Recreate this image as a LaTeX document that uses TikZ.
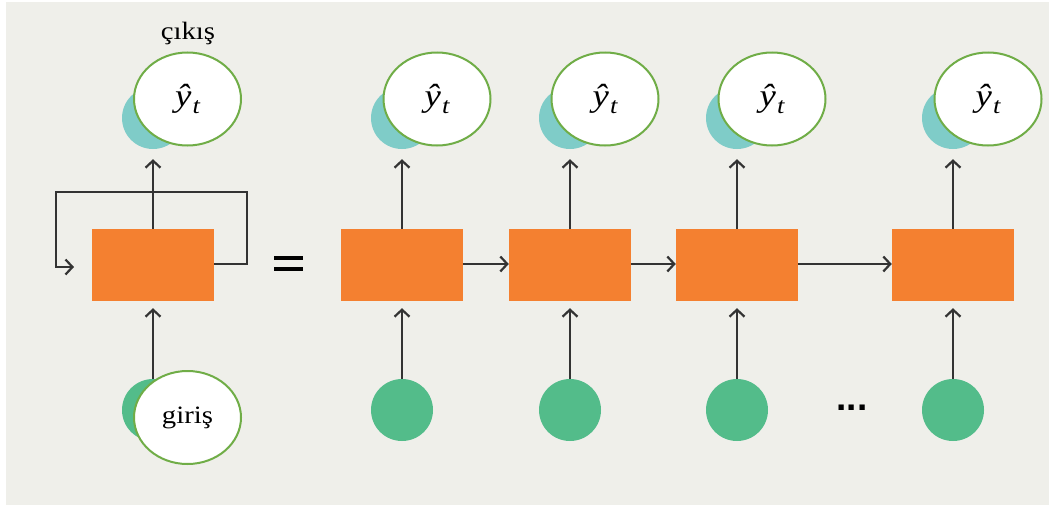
\documentclass[tikz,border=0pt]{standalone}
\usepackage{fontspec}
\usetikzlibrary{arrows.meta,shapes.geometric}
\newfontfamily\lblfont{Liberation Serif}
\newfontfamily\dotfont{Liberation Sans}
\definecolor{bgc}{HTML}{EFEFEA}
\definecolor{orng}{HTML}{F48030}
\definecolor{tealc}{HTML}{7FCCC8}
\definecolor{grnc}{HTML}{53BC8A}
\definecolor{ellb}{HTML}{70AD47}
\definecolor{arrc}{HTML}{333333}
\newcommand{\yhatt}{\scalebox{1.15}[1]{\lblfont\itshape\fontsize{32}{36}\selectfont ŷ\kern1pt\raisebox{-0.22em}{\fontsize{23}{26}\selectfont t}}}
\tikzset{
  cell/.style={fill=orng, draw=none, minimum width=122pt, minimum height=72pt, inner sep=0pt},
  outc/.style={circle, fill=tealc, draw=none, minimum size=62pt, inner sep=0pt},
  inc/.style={circle, fill=grnc, draw=none, minimum size=62pt, inner sep=0pt},
  bubble/.style={ellipse, fill=white, draw=ellb, line width=2pt, minimum width=107pt, minimum height=93pt, inner sep=0pt},
  conn/.style={draw=arrc, line width=2.2pt, -{Straight Barb[length=7pt,width=15pt]}},
  lbl/.style={font=\lblfont\fontsize{25}{30}\selectfont, inner sep=0pt},
}
\begin{document}
\begin{tikzpicture}[x=1pt,y=-1pt]
\useasboundingbox (0,0) rectangle (1049,506);
\fill[bgc] (6,2) rectangle (1049,505);
% folded unit
\node[cell] (L) at (153,265) {};
\node[outc] (tL) at (153,118) {};
\node[bubble] (eL) at (187.5,99) {\yhatt};
\node[lbl, anchor=base] (out) at (188,39) {\scalebox{1.15}[1]{çıkış}};
\node[inc] (gL) at (153,410) {};
\node[bubble, font=\lblfont\fontsize{25}{30}\selectfont] (iL) at (187.5,417.5) {\scalebox{1.15}[1]{giriş}};
\draw[conn, shorten >=7pt] (gL.north) -- (L.south);
\coordinate (loopend) at (74,267);
\draw[conn] (L.east |- 0,264) -- (247,264) -- (247,192) -- (56,192) -- (56,267) -- (loopend);
\draw[conn, shorten >=10pt] (L.north) -- (tL.south);
% equals
\draw[black, line width=4pt] (274,258) -- (303,258) (274,269) -- (303,269);
% unrolled units
\foreach \i/\x in {1/402,2/570,3/737,4/953}{
  \node[cell] (u\i) at (\x,265) {};
  \node[outc] (t\i) at (\x,118) {};
  \node[bubble] (e\i) at (\x+35,99) {\yhatt};
  \node[inc] (g\i) at (\x,410) {};
  \draw[conn, shorten >=7pt] (g\i.north) -- (u\i.south);
  \draw[conn, shorten >=10pt] (u\i.north) -- (t\i.south);
}
\draw[conn] (u1.east |- 0,264) -- (u2.west |- 0,264);
\draw[conn] (u2.east |- 0,264) -- (u3.west |- 0,264);
\draw[conn] (u3.east |- 0,264) -- (u4.west |- 0,264);
\node[anchor=base, inner sep=0pt, font=\dotfont\bfseries\fontsize{37}{40}\selectfont] (dots) at (852,410) {...};
\end{tikzpicture}
\end{document}
